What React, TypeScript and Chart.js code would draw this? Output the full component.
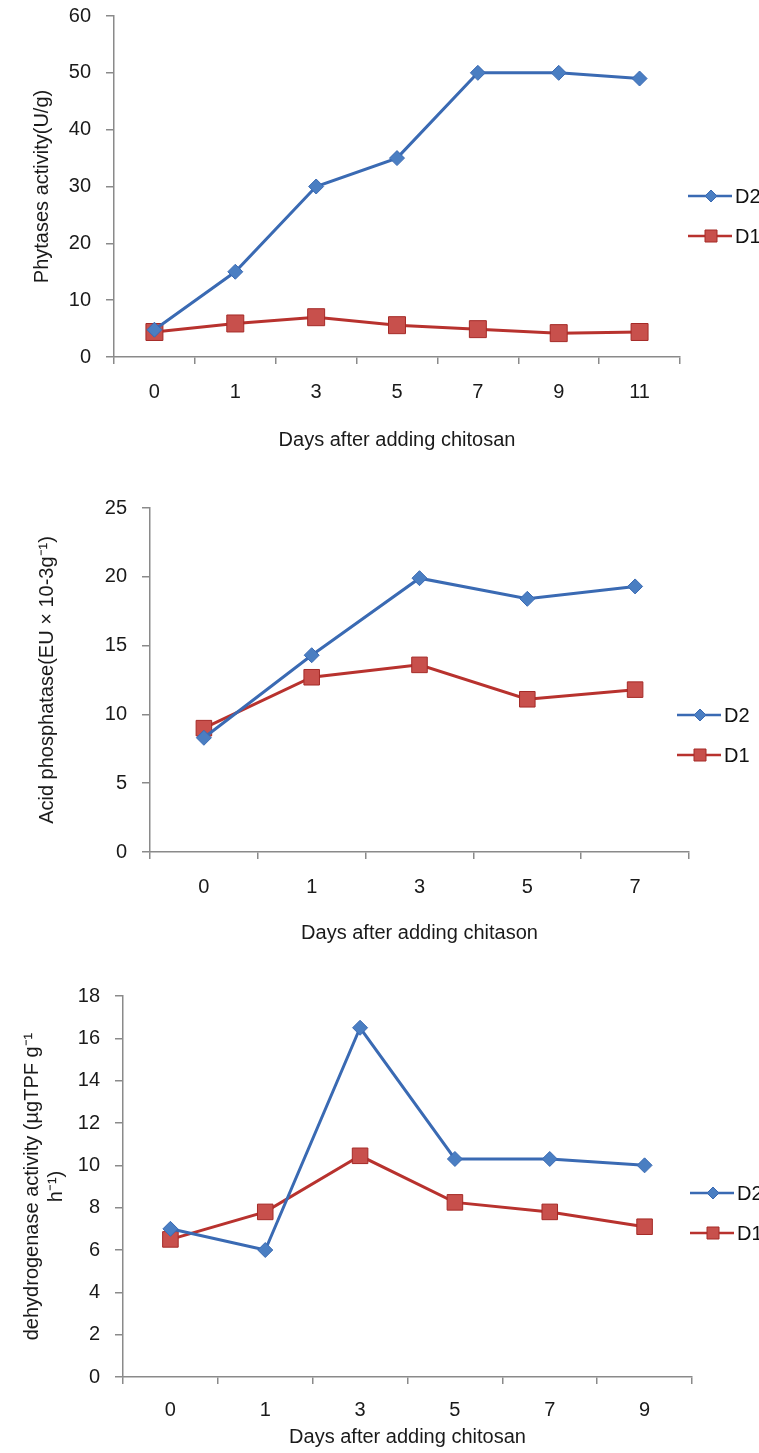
import React, { useEffect, useRef } from 'react';
import { Chart, registerables } from 'chart.js';

Chart.register(...registerables);

// ---- data ----
const days1 = ['0', '1', '3', '5', '7', '9', '11'];
const phytaseD2 = [4.8, 15, 30, 35, 50, 50, 49];
const phytaseD1 = [4.4, 5.9, 7.0, 5.6, 4.9, 4.2, 4.4];

const days2 = ['0', '1', '3', '5', '7'];
const acidD2 = [8.3, 14.3, 19.9, 18.4, 19.3];
const acidD1 = [9.0, 12.7, 13.6, 11.1, 11.8];

const days3 = ['0', '1', '3', '5', '7', '9'];
const dehydD2 = [7.0, 6.0, 16.5, 10.3, 10.3, 10.0];
const dehydD1 = [6.5, 7.8, 10.45, 8.25, 7.8, 7.1];

const seriesLabels = ['D2', 'D1'];

const FONT = '"Liberation Sans", Arial, Helvetica, sans-serif';
Chart.defaults.font.family = FONT;
Chart.defaults.font.size = 20;
Chart.defaults.color = '#1a1a1a';

const BLUE_LINE = '#3a6ab3';
const BLUE_FILL = '#4a7ec2';
const RED_LINE = '#b8322e';
const RED_FILL = '#c8504c';
const RED_EDGE = '#a52a27';
const AXIS = '#8a8a8a';

const sideLegend = {
  id: 'sideLegend',
  afterDraw(chart: any, _args: any, opts: any) {
    const ctx = chart.ctx;
    chart.data.datasets.forEach((ds: any, i: number) => {
      const y = opts.y + i * opts.gap;
      const x = opts.x;
      ctx.save();
      ctx.strokeStyle = ds.borderColor;
      ctx.lineWidth = 2.5;
      ctx.beginPath();
      ctx.moveTo(x, y);
      ctx.lineTo(x + 44, y);
      ctx.stroke();
      const cx = x + 23;
      ctx.fillStyle = ds.pointBackgroundColor;
      ctx.strokeStyle = ds.pointBorderColor;
      ctx.lineWidth = 1;
      ctx.beginPath();
      if (ds.pointStyle === 'rectRot') {
        const r = 6;
        ctx.moveTo(cx - r, y);
        ctx.lineTo(cx, y - r);
        ctx.lineTo(cx + r, y);
        ctx.lineTo(cx, y + r);
        ctx.closePath();
      } else {
        const s = 6;
        ctx.rect(cx - s, y - s, 2 * s, 2 * s);
      }
      ctx.fill();
      ctx.stroke();
      ctx.fillStyle = '#111';
      ctx.font = '20px ' + FONT;
      ctx.textBaseline = 'middle';
      ctx.textAlign = 'left';
      ctx.fillText(ds.label, x + 47, y + 1);
      ctx.restore();
    });
  },
};

type Panel = {
  labels: string[];
  d2: number[];
  d1: number[];
  yMax: number;
  yStep: number;
  yTitle: string | string[];
  xTitle: string;
  height: number;
  top: number;
  left: number;
  right: number;
  xHeight: number;
  yTitlePad: number;
  xTitlePad: number;
  xTickPad: number;
  legendX: number;
  legendY: number;
  squareR: number;
};

const panels: Panel[] = [
  {
    labels: days1, d2: phytaseD2, d1: phytaseD1, yMax: 60, yStep: 10,
    yTitle: 'Phytases activity(U/g)', xTitle: 'Days after adding chitosan',
    height: 470, top: 16, left: 114, right: 79, xHeight: 113, yTitlePad: 30, xTitlePad: 18, xTickPad: 16,
    legendX: 688, legendY: 196, squareR: 12,
  },
  {
    labels: days2, d2: acidD2, d1: acidD1, yMax: 25, yStep: 5,
    yTitle: 'Acid phosphatase(EU × 10-3g⁻¹)', xTitle: 'Days after adding chitason',
    height: 490, top: 38, left: 150, right: 70, xHeight: 108, yTitlePad: 35, xTitlePad: 15, xTickPad: 16,
    legendX: 677, legendY: 245, squareR: 11,
  },
  {
    labels: days3, d2: dehydD2, d1: dehydD1, yMax: 18, yStep: 2,
    yTitle: ['dehydrogenase activity (µgTPF g⁻¹', 'h⁻¹)'], xTitle: 'Days after adding chitosan',
    height: 493, top: 36, left: 123, right: 67, xHeight: 76, yTitlePad: 20, xTitlePad: 4, xTickPad: 14,
    legendX: 690, legendY: 233, squareR: 11,
  },
];

function PanelChart({ p }: { p: Panel }) {
  const ref = useRef<HTMLCanvasElement | null>(null);
  useEffect(() => {
    if (!ref.current) return;
    const chart = new Chart(ref.current, {
      type: 'line',
      data: {
        labels: p.labels,
        datasets: [
          {
            label: seriesLabels[0], data: p.d2, borderColor: BLUE_LINE, backgroundColor: BLUE_FILL,
            borderWidth: 3, tension: 0, pointStyle: 'rectRot', pointRadius: 7.5,
            pointBackgroundColor: BLUE_FILL, pointBorderColor: BLUE_LINE, pointBorderWidth: 1,
          },
          {
            label: seriesLabels[1], data: p.d1, borderColor: RED_LINE, backgroundColor: RED_FILL,
            borderWidth: 3, tension: 0, pointStyle: 'rect', pointRadius: p.squareR,
            pointBackgroundColor: RED_FILL, pointBorderColor: RED_EDGE, pointBorderWidth: 1,
          },
        ],
      } as any,
      options: {
        animation: false,
        responsive: false,
        events: [],
        layout: { padding: { top: p.top, right: p.right, left: 0, bottom: 0 } },
        plugins: {
          legend: { display: false },
          tooltip: { enabled: false },
          sideLegend: { x: p.legendX, y: p.legendY, gap: 40 },
        } as any,
        scales: {
          x: {
            type: 'category',
            offset: true,
            grid: { drawOnChartArea: false, offset: true, tickLength: 7, color: AXIS, lineWidth: 1.5 },
            border: { color: AXIS, width: 1.5 },
            ticks: { padding: p.xTickPad, color: '#1a1a1a', font: { size: 20 } },
            title: { display: true, text: p.xTitle, font: { size: 20 }, color: '#1a1a1a', padding: { top: 0, bottom: p.xTitlePad } },
            afterFit: (s: any) => { s.height = p.xHeight; },
          },
          y: {
            min: 0, max: p.yMax,
            grid: { drawOnChartArea: false, tickLength: 8, color: AXIS, lineWidth: 1.5 },
            border: { color: AXIS, width: 1.5 },
            ticks: { stepSize: p.yStep, padding: 15, color: '#1a1a1a', font: { size: 20 } },
            title: { display: true, text: p.yTitle, font: { size: 20 }, color: '#1a1a1a', padding: { top: p.yTitlePad, bottom: 0 } },
            afterFit: (s: any) => { s.width = p.left; s.paddingTop = 0; s.paddingBottom = 0; },
          },
        } as any,
      },
      plugins: [sideLegend as any],
    });
    return () => chart.destroy();
  }, [p]);
  return <canvas ref={ref} width={759} height={p.height} style={{ display: 'block', width: 759, height: p.height }} />;
}

export default function App() {
  return (
    <div style={{ position: 'absolute', top: 0, left: 0, width: 759, height: 1453, background: '#fff', overflow: 'hidden' }}>
      {panels.map((p, i) => <PanelChart key={i} p={p} />)}
    </div>
  );
}
